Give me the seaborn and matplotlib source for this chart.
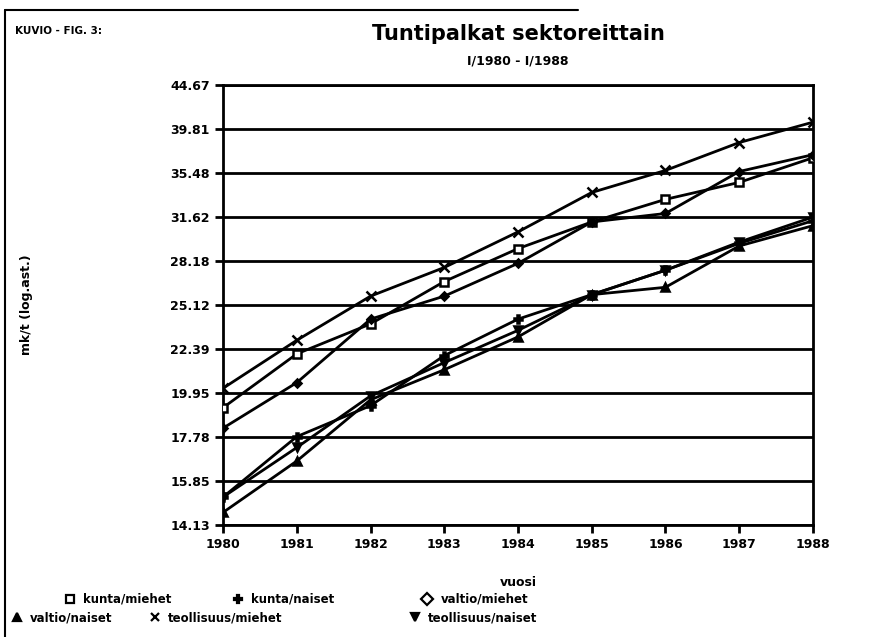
import matplotlib
matplotlib.use("Agg")
import matplotlib.pyplot as plt
import pandas as pd
import seaborn as sns
from matplotlib.lines import Line2D
from matplotlib.ticker import FixedLocator, NullLocator

# --- data ---
years = [1980, 1981, 1982, 1983, 1984, 1985, 1986, 1987, 1988]
kunta_miehet = [19.2, 22.1, 23.9, 26.7, 29.1, 31.2, 33.1, 34.6, 36.9]
kunta_naiset = [15.2, 17.8, 19.3, 22.0, 24.2, 25.8, 27.5, 29.5, 31.3]
valtio_miehet = [18.2, 20.5, 24.2, 25.7, 28.0, 31.2, 31.9, 35.6, 37.2]
valtio_naiset = [14.6, 16.7, 19.6, 21.2, 23.1, 25.8, 26.3, 29.3, 30.9]
teollisuus_miehet = [20.2, 22.9, 25.7, 27.7, 30.4, 33.7, 35.7, 38.4, 40.5]
teollisuus_naiset = [15.2, 17.3, 19.8, 21.6, 23.5, 25.8, 27.5, 29.6, 31.6]

series_names = ["kunta/miehet", "kunta/naiset", "valtio/miehet",
                "valtio/naiset", "teollisuus/miehet", "teollisuus/naiset"]
series_values = [kunta_miehet, kunta_naiset, valtio_miehet,
                 valtio_naiset, teollisuus_miehet, teollisuus_naiset]
ytick_labels = ["14.13", "15.85", "17.78", "19.95", "22.39", "25.12",
                "28.18", "31.62", "35.48", "39.81", "44.67"]

df = pd.DataFrame(
    [(y, v, n) for n, vals in zip(series_names, series_values) for y, v in zip(years, vals)],
    columns=["vuosi", "palkka", "sarja"],
)

# marker, size, face colour (plot), face colour (legend)
marker_style = {"kunta/miehet": ("s", 5.5, "white", "none"),
                "kunta/naiset": ("P", 5.5, "black", "black"),
                "valtio/miehet": ("D", 4.5, "black", "none"),
                "valtio/naiset": ("^", 5.5, "black", "black"),
                "teollisuus/miehet": ("x", 6.5, "black", "black"),
                "teollisuus/naiset": ("v", 5.5, "black", "black")}

sns.set_theme(style="ticks")
plt.rcParams["font.family"] = ["DejaVu Sans"]
plt.rcParams["font.weight"] = "bold"
plt.rcParams["text.color"] = "black"
plt.rcParams["axes.labelcolor"] = "black"

fig = plt.figure(figsize=(8.75, 6.37), dpi=100)
ax = fig.add_axes([0.255, 0.176, 0.674, 0.691])

for name in series_names:
    m, ms, fc, _ = marker_style[name]
    sub = df[df["sarja"] == name]
    sns.lineplot(data=sub, x="vuosi", y="palkka", color="black",
                 marker=m, markersize=ms, markerfacecolor=fc,
                 markeredgecolor="black", markeredgewidth=1.8,
                 linewidth=2.0, legend=False, ax=ax, zorder=3)

ax.set_yscale("log")
ytick_vals = [float(t) for t in ytick_labels]
ax.set_ylim(ytick_vals[0], ytick_vals[-1])
ax.yaxis.set_major_locator(FixedLocator(ytick_vals))
ax.yaxis.set_minor_locator(NullLocator())
ax.set_yticklabels(ytick_labels)
ax.set_xlim(years[0], years[-1])
ax.set_xticks(years)
ax.set_xticklabels([str(y) for y in years])

ax.yaxis.grid(True, color="black", linewidth=2.0)
ax.set_axisbelow(True)
for s in ax.spines.values():
    s.set_color("black")
    s.set_linewidth(2.0)
ax.tick_params(axis="both", colors="black", labelsize=9, width=2, length=6, direction="out")
for lbl in ax.get_xticklabels() + ax.get_yticklabels():
    lbl.set_fontweight("bold")

ax.set_xlabel("vuosi", fontsize=9, fontweight="bold")
ax.set_ylabel("mk/t (log.ast.)", fontsize=9, fontweight="bold")
ax.yaxis.set_label_coords(-0.322, 0.5)
ax.xaxis.set_label_coords(0.5, -0.115)

fig.text(0.017, 0.952, "KUVIO - FIG. 3:", fontsize=7.5, fontweight="bold", ha="left", va="center")
fig.text(0.592, 0.946, "Tuntipalkat sektoreittain", fontsize=15, fontweight="bold", ha="center", va="center")
fig.text(0.592, 0.905, "I/1980 - I/1988", fontsize=9, fontweight="bold", ha="center", va="center")

# legend entries placed in the staggered two-row arrangement of the original
legend_pos = {"kunta/miehet": (0.066, 0.059), "kunta/naiset": (0.258, 0.059),
              "valtio/miehet": (0.475, 0.059), "valtio/naiset": (0.006, 0.030),
              "teollisuus/miehet": (0.164, 0.030), "teollisuus/naiset": (0.461, 0.030)}
for name in series_names:
    m, ms, _, fc = marker_style[name]
    h = Line2D([], [], linestyle="none", marker=m, markersize=6,
               markerfacecolor=fc, markeredgecolor="black", markeredgewidth=1.6)
    fig.legend([h], [name], loc="center left", bbox_to_anchor=legend_pos[name],
               frameon=False, handlelength=1.0, handletextpad=0.6,
               borderpad=0, prop={"weight": "bold", "size": 8.5})

# page frame from the scanned original
fig.add_artist(Line2D([0.006, 0.006], [0.0, 0.985], color="black", linewidth=1.5))
fig.add_artist(Line2D([0.006, 0.66], [0.985, 0.985], color="black", linewidth=1.5))

fig.savefig("out.png", dpi=100)
